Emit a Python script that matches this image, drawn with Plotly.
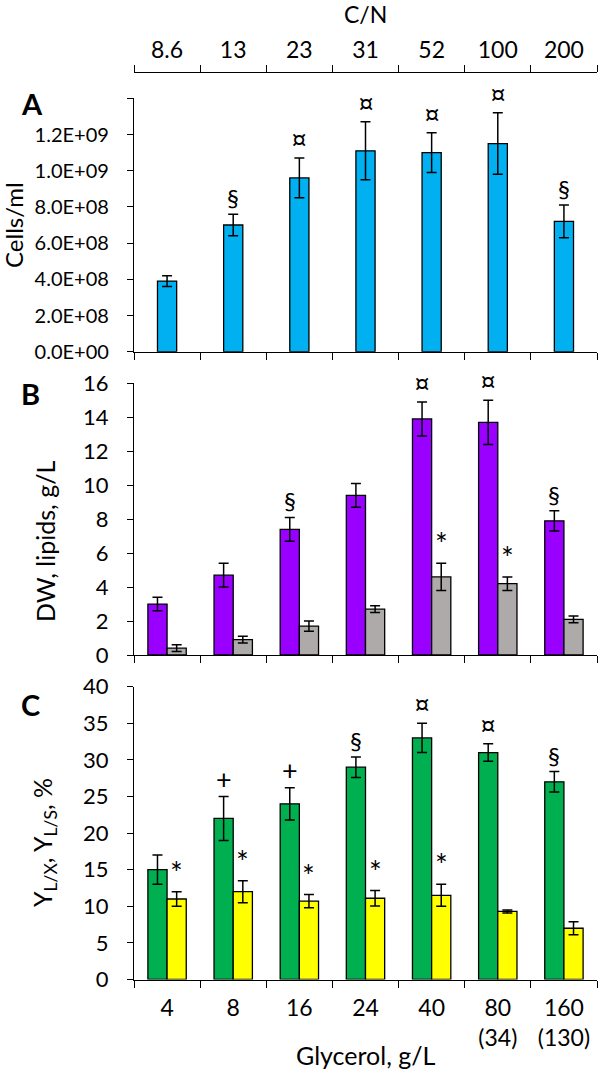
import plotly.graph_objects as go

# categories
cn_labels = ["8.6", "13", "23", "31", "52", "100", "200"]
glycerol_labels = ["4", "8", "16", "24", "40", "80<br>(34)", "160<br>(130)"]

# panel A: cell count
cells = [3.9e8, 7.0e8, 9.6e8, 1.11e9, 1.10e9, 1.15e9, 7.2e8]
cells_err = [0.3e8, 0.6e8, 1.1e8, 1.6e8, 1.1e8, 1.7e8, 0.9e8]
cells_mark = ["", "§", "¤", "¤", "¤", "¤", "§"]

# panel B: dry weight and lipids, g/L
dw = [3.0, 4.7, 7.4, 9.4, 13.9, 13.7, 7.9]
dw_err = [0.4, 0.7, 0.7, 0.7, 1.0, 1.3, 0.6]
dw_mark = ["", "", "§", "", "¤", "¤", "§"]
lipids = [0.4, 0.9, 1.7, 2.7, 4.6, 4.2, 2.1]
lipids_err = [0.2, 0.2, 0.3, 0.2, 0.8, 0.4, 0.2]
lipids_mark = ["", "", "", "", "*", "*", ""]

# panel C: yields, %
ylx = [15, 22, 24, 29, 33, 31, 27]
ylx_err = [2.0, 3.0, 2.2, 1.4, 2.0, 1.2, 1.4]
ylx_mark = ["", "+", "+", "§", "¤", "¤", "§"]
yls = [11, 12, 10.7, 11.1, 11.5, 9.3, 7.0]
yls_err = [1.0, 1.5, 0.9, 1.05, 1.5, 0.2, 0.9]
yls_mark = ["*", "*", "*", "*", "*", "", ""]

cells_ticks = [0, 2e8, 4e8, 6e8, 8e8, 1.0e9, 1.2e9, 1.4e9]

FONT = "Lato, 'Open Sans', sans-serif"
MARK_SIZE = {"§": 24, "¤": 28, "*": 30, "+": 27}
BAR_W = 0.29
W, H = 600, 1069
L, R = 134, 3
PW = W - L - R


def py(px):
    """pixel row -> paper y"""
    return 1 - px / H


def pxx(px):
    """pixel column -> paper x"""
    return (px - L) / PW


def bar(x, y, err, color, xa, ya, offset=None):
    return go.Bar(
        x=x, y=y, xaxis=xa, yaxis=ya,
        width=BAR_W, offset=offset,
        marker=dict(color=color, line=dict(color="black", width=1.3)),
        error_y=dict(type="data", array=err, color="black", thickness=1.5, width=5),
        showlegend=False, hoverinfo="skip",
    )


fig = go.Figure()
fig.add_trace(bar(glycerol_labels, cells, cells_err, "#00B0F0", "x", "y", -BAR_W / 2))
fig.add_trace(bar(glycerol_labels, dw, dw_err, "#9900FF", "x2", "y2", -BAR_W))
fig.add_trace(bar(glycerol_labels, lipids, lipids_err, "#AEAAAA", "x2", "y2", 0))
fig.add_trace(bar(glycerol_labels, ylx, ylx_err, "#00B050", "x3", "y3", -BAR_W))
fig.add_trace(bar(glycerol_labels, yls, yls_err, "#FFFF00", "x3", "y3", 0))

# invisible trace that carries the C/N category axis on top
fig.add_trace(go.Scatter(x=cn_labels, y=[0] * 7, xaxis="x4", yaxis="y",
                         mode="markers", marker=dict(opacity=0),
                         showlegend=False, hoverinfo="skip"))

annotations = []


def marks(labels, vals, errs, xa, ya, dx):
    for i, (m, v, e) in enumerate(zip(labels, vals, errs)):
        if m:
            annotations.append(dict(
                x=i + dx, y=v + e, xref=xa, yref=ya, text=m, showarrow=False,
                yanchor="bottom", yshift=0,
                font=dict(family=FONT, size=MARK_SIZE[m], color="black")))


marks(cells_mark, cells, cells_err, "x", "y", 0)
marks(dw_mark, dw, dw_err, "x2", "y2", -BAR_W / 2)
marks(lipids_mark, lipids, lipids_err, "x2", "y2", BAR_W / 2)
marks(ylx_mark, ylx, ylx_err, "x3", "y3", -BAR_W / 2)
marks(yls_mark, yls, yls_err, "x3", "y3", BAR_W / 2)

# panel letters
for letter, ypx in [("A", 104), ("B", 394), ("C", 704)]:
    annotations.append(dict(x=pxx(19), y=py(ypx), xref="paper", yref="paper",
                            text=f"<b>{letter}</b>", showarrow=False,
                            xanchor="left", yanchor="middle",
                            font=dict(family=FONT, size=29, color="black")))

# axis titles
for text, xpx, ypx, size in [("Cells/ml", 14, 225, 24),
                             ("DW, lipids, g/L", 45, 542, 25),
                             ("Y<sub>L/X</sub>, Y<sub>L/S</sub>, %", 44, 843, 25)]:
    annotations.append(dict(x=pxx(xpx), y=py(ypx), xref="paper", yref="paper",
                            text=text, textangle=-90, showarrow=False,
                            xanchor="center", yanchor="middle",
                            font=dict(family=FONT, size=size, color="black")))

annotations.append(dict(x=0.5, y=py(14), xref="paper", yref="paper", text="C/N",
                        showarrow=False, yanchor="middle",
                        font=dict(family=FONT, size=23, color="black")))
annotations.append(dict(x=0.5, y=py(1055), xref="paper", yref="paper",
                        text="Glycerol, g/L", showarrow=False, yanchor="middle",
                        font=dict(family=FONT, size=25, color="black")))

xcommon = dict(type="category", range=[-0.5, 6.5], showline=True, linecolor="black",
               linewidth=1.3, ticks="outside", tickson="boundaries", ticklen=7,
               tickcolor="black", tickwidth=1.3, showgrid=False, zeroline=False,
               tickfont=dict(family=FONT, size=23, color="black"))
ycommon = dict(showline=True, linecolor="black", linewidth=1.3, ticks="outside",
               ticklen=6, tickcolor="black", tickwidth=1.3, showgrid=False,
               zeroline=False, ticklabelstandoff=14)

fig.update_layout(
    width=W, height=H,
    margin=dict(l=L, r=R, t=0, b=0, autoexpand=False),
    paper_bgcolor="white", plot_bgcolor="white",
    font=dict(family=FONT, color="black"),
    barmode="overlay",
    xaxis=dict(**xcommon, anchor="y", domain=[0, 1], showticklabels=False),
    xaxis2=dict(**xcommon, anchor="y2", domain=[0, 1], showticklabels=False),
    xaxis3=dict(**xcommon, anchor="y3", domain=[0, 1], ticklabelstandoff=8),
    xaxis4=dict(**xcommon, overlaying="x", side="top", anchor="free",
                position=py(71.7), ticklabelstandoff=4),
    yaxis=dict(**ycommon, domain=[py(351.7), py(98.3)], range=[0, 1.4e9],
               tickvals=cells_ticks,
               ticktext=[f"{v:.1E}" if v < 1.3e9 else "" for v in cells_ticks],
               tickfont=dict(family=FONT, size=20, color="black")),
    yaxis2=dict(**ycommon, domain=[py(655), py(383.3)], range=[0, 16], dtick=2,
                tickfont=dict(family=FONT, size=22, color="black")),
    yaxis3=dict(**ycommon, domain=[py(979.5), py(686.7)], range=[0, 40], dtick=5,
                tickfont=dict(family=FONT, size=22, color="black")),
    annotations=annotations,
)

# drop the default 8px body margin so the figure sits at the page corner
fig.write_html("out.html", config={"displayModeBar": False},
               post_script="document.body.style.margin = '0';")
